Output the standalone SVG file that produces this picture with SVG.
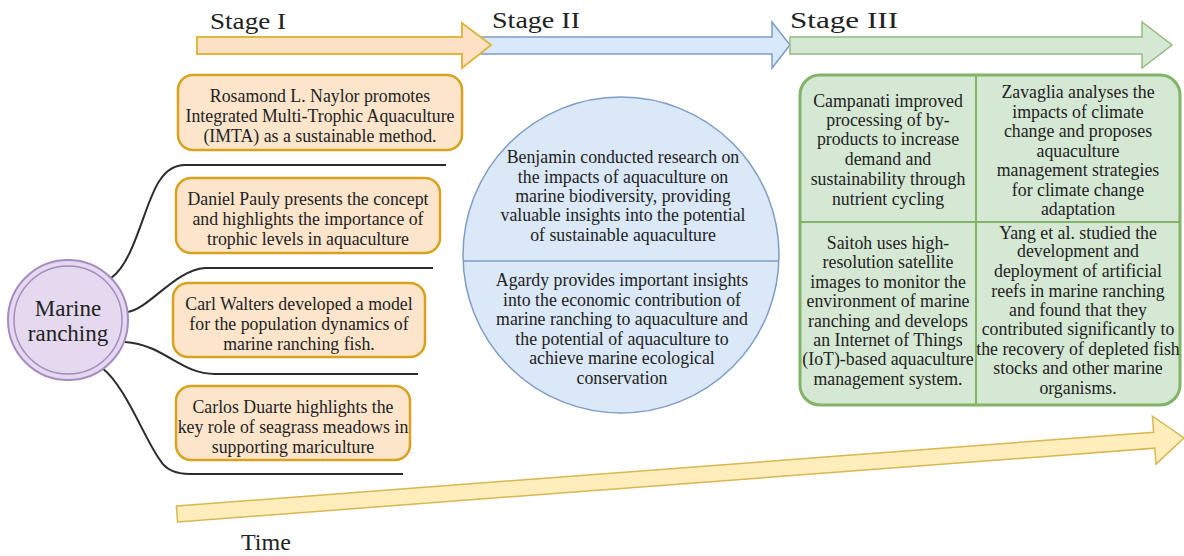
<svg xmlns="http://www.w3.org/2000/svg" width="1184" height="556" viewBox="0 0 1184 556">
<style>
.t{font-family:"Liberation Serif","DejaVu Serif",serif;font-size:17.8px;fill:#222;text-anchor:middle}
.st{font-family:"Liberation Serif","DejaVu Serif",serif;font-size:24px;fill:#222}
.ob{fill:#fde5cc;stroke:#d9a21c;stroke-width:2.5}
.con{fill:none;stroke:#2b2b2b;stroke-width:2}
</style>
<rect width="1184" height="556" fill="#ffffff"/>
<g id="stage-arrows">
<polygon points="470,37 772,37 772,22 790,45 772,68 772,54 470,54" fill="#dae8fc" stroke="#7c9cc8" stroke-width="1.5"/>
<polygon points="790,37 1142,37 1142,22 1172,45 1142,68 1142,54 790,54" fill="#d5e8d4" stroke="#93bb80" stroke-width="1.5"/>
<polygon points="197,37 462,37 462,23 491,45 462,68 462,54 197,54" fill="#fde1c4" stroke="#e0b540" stroke-width="2"/>
<text class="st" x="210" y="29" textLength="76" lengthAdjust="spacingAndGlyphs">Stage I</text>
<text class="st" x="492" y="28" textLength="88" lengthAdjust="spacingAndGlyphs">Stage  II</text>
<text class="st" x="790" y="28" textLength="108" lengthAdjust="spacingAndGlyphs">Stage  III</text>
</g>
<g id="connectors">
<path class="con" d="M 111 278 C 135 262, 145 200, 160 180 Q 170 165, 185 165 L 446 165"/>
<path class="con" d="M 128 312 C 150 308, 175 270, 205 268 L 433 268"/>
<path class="con" d="M 125 342 C 165 345, 180 374, 215 374 L 418 374"/>
<path class="con" d="M 102 368 C 125 385, 145 440, 160 460 Q 168 474, 190 474 L 403 474"/>
</g>
<g id="marine-ranching">
<circle cx="68" cy="320" r="60" fill="#e4d9ee" stroke="#a68cc2" stroke-width="2"/>
<circle cx="68" cy="320" r="54" fill="none" stroke="#a68cc2" stroke-width="1.5"/>
<text class="t" style="font-size:23px" x="68" y="316">Marine</text>
<text class="t" style="font-size:23px" x="68" y="341">ranching</text>
</g>
<g id="naylor">
<rect class="ob" x="178" y="75" width="284" height="75" rx="15"/>
<text class="t" x="320" y="102">Rosamond L. Naylor promotes</text>
<text class="t" x="320" y="122">Integrated Multi-Trophic Aquaculture</text>
<text class="t" x="320" y="142">(IMTA) as a sustainable method.</text>
</g>
<g id="pauly">
<rect class="ob" x="176" y="178" width="264" height="75" rx="15"/>
<text class="t" x="308" y="205">Daniel Pauly presents the concept</text>
<text class="t" x="308" y="225">and highlights the importance of</text>
<text class="t" x="308" y="245">trophic levels in aquaculture</text>
</g>
<g id="walters">
<rect class="ob" x="173" y="283" width="252" height="74" rx="15"/>
<text class="t" x="299" y="310">Carl Walters developed a model</text>
<text class="t" x="299" y="330">for the population dynamics of</text>
<text class="t" x="299" y="350">marine ranching fish.</text>
</g>
<g id="duarte">
<rect class="ob" x="176" y="386" width="234" height="74" rx="15"/>
<text class="t" x="293" y="413">Carlos Duarte highlights the</text>
<text class="t" x="293" y="433">key role of seagrass meadows in</text>
<text class="t" x="293" y="453">supporting mariculture</text>
</g>
<g id="stage2">
<circle cx="621" cy="255" r="158" fill="#dae8f7" stroke="#7f9cc9" stroke-width="1.5"/>
<line x1="463.1" y1="261" x2="778.9" y2="261" stroke="#7f9cc9" stroke-width="1.5"/>
<text class="t" x="623" y="163">Benjamin conducted research on</text>
<text class="t" x="623" y="183">the impacts of aquaculture on</text>
<text class="t" x="623" y="202">marine biodiversity, providing</text>
<text class="t" x="623" y="221">valuable insights into the potential</text>
<text class="t" x="623" y="241">of sustainable aquaculture</text>
<text class="t" x="622" y="286">Agardy provides important insights</text>
<text class="t" x="622" y="306">into the economic contribution of</text>
<text class="t" x="622" y="325">marine ranching to aquaculture and</text>
<text class="t" x="622" y="345">the potential of aquaculture to</text>
<text class="t" x="622" y="364">achieve marine ecological</text>
<text class="t" x="622" y="384">conservation</text>
</g>
<g id="stage3">
<rect x="800" y="75" width="380" height="330" rx="20" fill="#d5e8d4" stroke="#82b366" stroke-width="3"/>
<line x1="976" y1="75" x2="976" y2="405" stroke="#82b366" stroke-width="2"/>
<line x1="800" y1="222" x2="1180" y2="222" stroke="#82b366" stroke-width="2"/>
<text class="t" x="888" y="107">Campanati improved</text>
<text class="t" x="888" y="126">processing of by-</text>
<text class="t" x="888" y="145">products to increase</text>
<text class="t" x="888" y="165">demand and</text>
<text class="t" x="888" y="185">sustainability through</text>
<text class="t" x="888" y="205">nutrient cycling</text>
<text class="t" x="1078" y="98">Zavaglia analyses the</text>
<text class="t" x="1078" y="118">impacts of climate</text>
<text class="t" x="1078" y="137">change and proposes</text>
<text class="t" x="1078" y="157">aquaculture</text>
<text class="t" x="1078" y="176">management strategies</text>
<text class="t" x="1078" y="196">for climate change</text>
<text class="t" x="1078" y="215">adaptation</text>
<text class="t" x="888" y="249">Saitoh uses high-</text>
<text class="t" x="888" y="268">resolution satellite</text>
<text class="t" x="888" y="288">images to monitor the</text>
<text class="t" x="888" y="307">environment of marine</text>
<text class="t" x="888" y="327">ranching and develops</text>
<text class="t" x="888" y="346">an Internet of Things</text>
<text class="t" x="888" y="365">(IoT)-based aquaculture</text>
<text class="t" x="888" y="385">management system.</text>
<text class="t" x="1078" y="239">Yang et al. studied the</text>
<text class="t" x="1078" y="257">development and</text>
<text class="t" x="1078" y="277">deployment of artificial</text>
<text class="t" x="1078" y="297">reefs in marine ranching</text>
<text class="t" x="1078" y="316">and found that they</text>
<text class="t" x="1078" y="335">contributed significantly to</text>
<text class="t" x="1078" y="355">the recovery of depleted fish</text>
<text class="t" x="1078" y="374">stocks and other marine</text>
<text class="t" x="1078" y="394">organisms.</text>
</g>
<g id="time-arrow">
<polygon transform="translate(177,514) rotate(-4.32)" points="0,-8 980,-8 980,-24 1010,0 980,24 980,8 0,8" fill="#ffeebb" stroke="#d9b650" stroke-width="1.5"/>
<text class="st" x="241" y="550">Time</text>
</g>
</svg>
